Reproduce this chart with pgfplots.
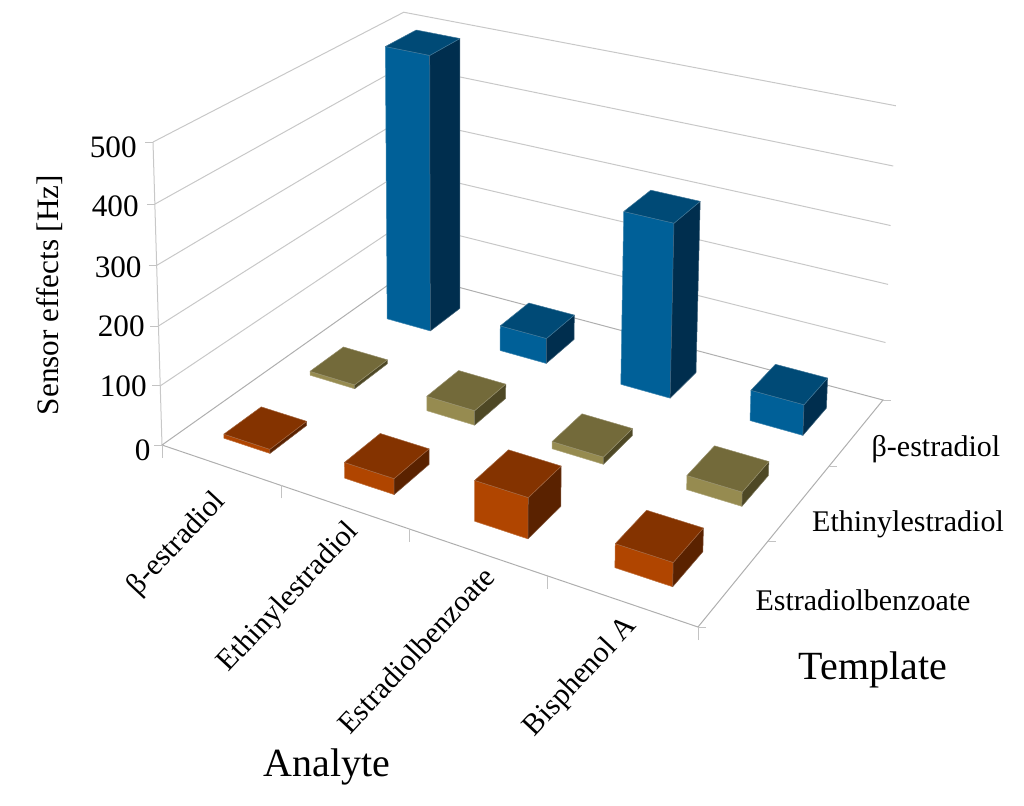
\documentclass[border=0pt]{standalone}
\usepackage{fontspec}
\setmainfont{Liberation Serif}
\usepackage{pgfplots}
\usepackage{pgfplotstable}
\pgfplotsset{compat=1.18}

% perspective of the chart: a = analyte (0..4), t = template (0..3), z = Hz (0..500)
% gives picture pixels, calibrated on the corners of the walls and floor
\pgfmathdeclarefunction{projw}{3}{\pgfmathparse{1-0.14336*(#1)/4+0.17683*(#2)/3-0.03*(#3)/500}}
\pgfmathdeclarefunction{projx}{3}{\pgfmathparse{(162+435.93*(#1)/4+314.62*(#2)/3-13.59*(#3)/500)/projw(#1,#2,#3)}}
\pgfmathdeclarefunction{projy}{3}{\pgfmathparse{(445+92.11*(#1)/4-123.73*(#2)/3-307.26*(#3)/500)/projw(#1,#2,#3)}}

\definecolor{front0}{RGB}{176,69,0}
\definecolor{top0}{RGB}{132,51,0}
\definecolor{side0}{RGB}{90,34,0}
\definecolor{front1}{RGB}{150,139,80}
\definecolor{top1}{RGB}{115,106,58}
\definecolor{side1}{RGB}{78,72,37}
\definecolor{front2}{RGB}{0,96,152}
\definecolor{top2}{RGB}{0,74,118}
\definecolor{side2}{RGB}{0,46,78}

% values of the bars, back row first
\pgfplotstableread{
a t h
0 2 500
1 2 45
2 2 302
3 2 52
0 1 7
1 1 25
2 1 12
3 1 23
0 0 7
1 0 26
2 0 65
3 0 37
}\bars

\pgfplotstableread{
da dt dz
0.31 0.28 0
0.7 0.28 0
0.7 0.28 1
0.31 0.28 1
0.31 0.28 0
}\facefront
\pgfplotstableread{
da dt dz
0.7 0.28 0
0.7 0.7 0
0.7 0.7 1
0.7 0.28 1
0.7 0.28 0
}\faceside
\pgfplotstableread{
da dt dz
0.31 0.28 1
0.7 0.28 1
0.7 0.7 1
0.31 0.7 1
0.31 0.28 1
}\facetop

% wall grid
\pgfplotstableread{
a t z
0 0 100
0 3 100
4 3 100
nan nan nan
0 0 200
0 3 200
4 3 200
nan nan nan
0 0 300
0 3 300
4 3 300
nan nan nan
0 0 400
0 3 400
4 3 400
nan nan nan
0 0 500
0 3 500
4 3 500
nan nan nan
0 0 0
0 0 500
}\walls

\pgfplotstableread{
a t z
0 0 0
0 3 0
4 3 0
4 0 0
0 0 0
}\floorlines

% ticks: a point on the axis and a pixel offset
\pgfplotstableread{
a t z dx dy
0 0 0 -8 0
0 0 0 0 0
nan nan nan 0 0
0 0 100 -8 0
0 0 100 0 0
nan nan nan 0 0
0 0 200 -8 0
0 0 200 0 0
nan nan nan 0 0
0 0 300 -8 0
0 0 300 0 0
nan nan nan 0 0
0 0 400 -8 0
0 0 400 0 0
nan nan nan 0 0
0 0 500 -8 0
0 0 500 0 0
nan nan nan 0 0
0 0 0 0 13
0 0 0 0 0
nan nan nan 0 0
1 0 0 0 13
1 0 0 0 0
nan nan nan 0 0
2 0 0 0 13
2 0 0 0 0
nan nan nan 0 0
3 0 0 0 13
3 0 0 0 0
nan nan nan 0 0
4 0 0 0 13
4 0 0 0 0
nan nan nan 0 0
4 0 0 8 0
4 0 0 0 0
nan nan nan 0 0
4 1 0 8 0
4 1 0 0 0
nan nan nan 0 0
4 2 0 8 0
4 2 0 0 0
nan nan nan 0 0
4 3 0 8 0
4 3 0 0 0
}\ticks

\newcommand\faceplot[5]{% a t h colour face
  \addplot[fill=#4, draw=#4!75!white, line width=0.25pt, line join=round]
    table[x expr={projx(#1+\thisrow{da},#2+\thisrow{dt},#3*\thisrow{dz})},
          y expr={projy(#1+\thisrow{da},#2+\thisrow{dt},#3*\thisrow{dz})}] {#5};
}
\newcommand\drawbar[3]{%
  \faceplot{#1}{#2}{#3}{front#2}{\facefront}
  \faceplot{#1}{#2}{#3}{side#2}{\faceside}
  \faceplot{#1}{#2}{#3}{top#2}{\facetop}
}
\newcommand\tickfont{\fontsize{15}{18}\selectfont}
\newcommand\numfont{\fontsize{15.6}{18}\selectfont}
\newcommand\bigfont{\fontsize{20}{24}\selectfont}

\begin{document}
\begin{tikzpicture}
\begin{axis}[
    scale only axis,
    width=512pt,
    height=402.5pt,
    xmin=0, xmax=1024,
    ymin=0, ymax=805,
    y dir=reverse,
    hide axis,
    clip=false,
    unbounded coords=jump,
]
\addplot[color={rgb,255:red,200;green,200;blue,200}, line width=0.5pt]
    table[x expr={projx(\thisrow{a},\thisrow{t},\thisrow{z})},
          y expr={projy(\thisrow{a},\thisrow{t},\thisrow{z})}] {\walls};
\addplot[color={rgb,255:red,175;green,175;blue,175}, line width=0.5pt]
    table[x expr={projx(\thisrow{a},\thisrow{t},\thisrow{z})},
          y expr={projy(\thisrow{a},\thisrow{t},\thisrow{z})}] {\floorlines};
\addplot[color={rgb,255:red,195;green,195;blue,195}, line width=0.5pt]
    table[x expr={projx(\thisrow{a},\thisrow{t},\thisrow{z})+\thisrow{dx}},
          y expr={projy(\thisrow{a},\thisrow{t},\thisrow{z})+\thisrow{dy}}] {\ticks};

\pgfplotsinvokeforeach{0,...,11}{
  \pgfplotstablegetelem{#1}{a}\of\bars \let\barA\pgfplotsretval
  \pgfplotstablegetelem{#1}{t}\of\bars \let\barT\pgfplotsretval
  \pgfplotstablegetelem{#1}{h}\of\bars \let\barH\pgfplotsretval
  \edef\doit{\noexpand\drawbar{\barA}{\barT}{\barH}}\doit
}

% value axis
\node[anchor=east, inner sep=0pt, font=\numfont] at (137,147) {500};
\node[anchor=east, inner sep=0pt, font=\numfont] at (139,206) {400};
\node[anchor=east, inner sep=0pt, font=\numfont] at (142,267) {300};
\node[anchor=east, inner sep=0pt, font=\numfont] at (145,326) {200};
\node[anchor=east, inner sep=0pt, font=\numfont] at (147,386) {100};
\node[anchor=east, inner sep=0pt, font=\numfont] at (151,450) {0};
\node[rotate=90, font=\numfont] at (50,295) {Sensor effects [Hz]};

% analyte labels
\node[rotate=47, font=\tickfont] at (177,544) {β-estradiol};
\node[rotate=47, font=\tickfont] at (289,598) {Ethinylestradiol};
\node[rotate=47, font=\tickfont] at (416,650) {Estradiolbenzoate};
\node[rotate=47, font=\tickfont] at (581,677) {Bisphenol A};
\node[font=\bigfont] at (327,767) {Analyte};

% template labels
\node[font=\tickfont] at (936,449) {β-estradiol};
\node[font=\tickfont] at (908,524) {Ethinylestradiol};
\node[font=\tickfont] at (863,600) {Estradiolbenzoate};
\node[font=\bigfont] at (873,670) {Template};
\end{axis}
\path (current axis.south west) rectangle (current axis.north east);
\end{tikzpicture}
\end{document}
